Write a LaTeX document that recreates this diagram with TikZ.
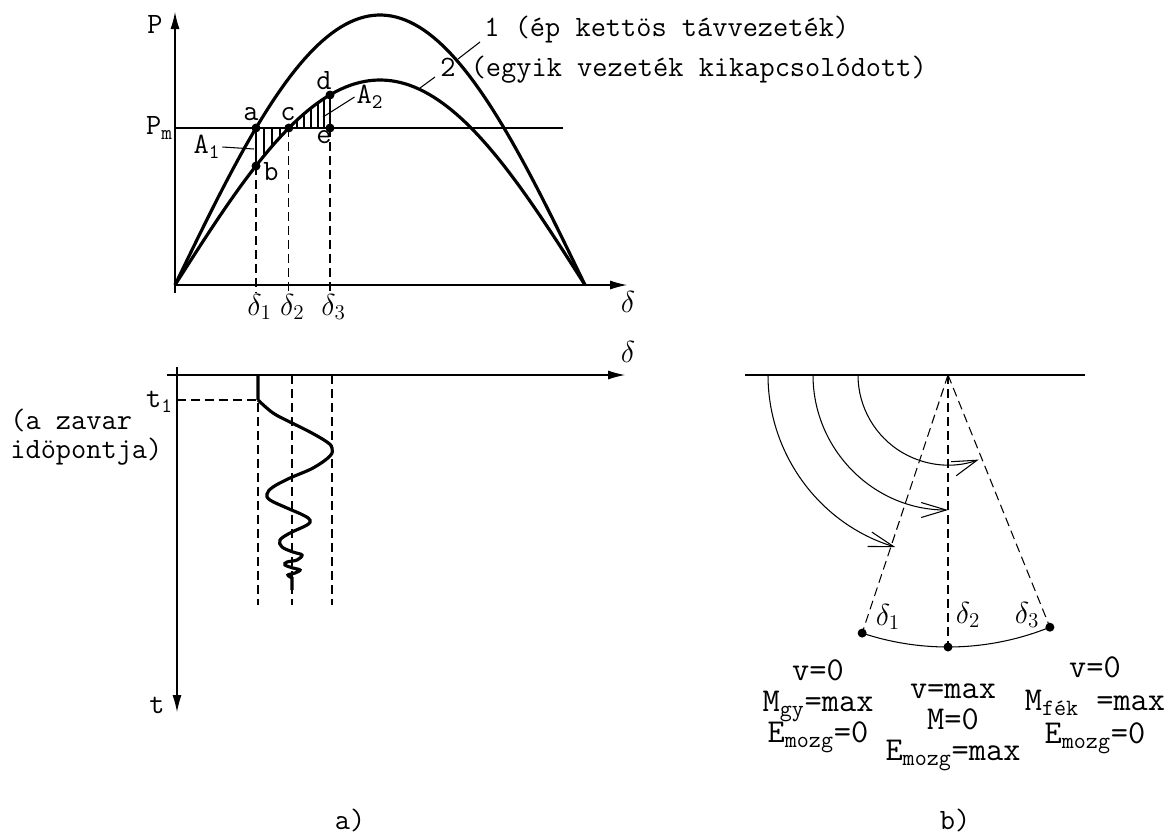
\documentclass[tikz,border=0pt]{standalone}
\usetikzlibrary{arrows.meta}
\newcommand{\tightlines}{\lineskiplimit-50pt\relax}
\begin{document}
\begin{tikzpicture}[
  x=0.02cm, y=-0.02cm,
  font=\fontsize{16.8}{18}\selectfont\ttfamily,
  every node/.style={inner sep=1pt},
  fine/.style={line width=0.6pt},
  axis/.style={line width=0.6pt, -{Latex[length=3.4mm, width=1.8mm]}},
  curve/.style={line width=1.8pt},
  guide/.style={line width=0.6pt, dash pattern=on 1.8mm off 1mm},
  dot/.style={circle, fill, inner sep=0pt, minimum size=1.8mm},
  swing/.style={line width=0.6pt, -{Straight Barb[length=5mm, width=3mm]}},
  state/.style={align=center, inner sep=0pt,
    font=\fontsize{19}{17.8}\selectfont\ttfamily\tightlines}
]
\useasboundingbox (0,0) rectangle (1165,839);

% Power-angle diagram
\coordinate (o) at (175,285);
\coordinate (pbot) at (175,293);
\coordinate (ptop) at (175,12);
\coordinate (dend) at (627,285);
\draw[axis] (pbot) -- (ptop);
\draw[axis] (o) -- (dend);
\node (plabel) at (155,24) {P};
\node (dlabel) at (628,302) {$\delta$};

\coordinate (pm0) at (175,128);
\coordinate (pm1) at (563,128);
\draw[fine] (pm0) -- (pm1);
\node[anchor=east] (pmlabel) at (pm0) {P\textsubscript{m}};

\draw[curve] plot[domain=0:180, samples=90] ({175+\x/180*410}, {285-270*sin(\x)});
\draw[curve] plot[domain=0:180, samples=90] ({175+\x/180*410}, {285-205*sin(\x)});

% Operating points
\coordinate (a) at (256,128);
\coordinate (b) at (256,166);
\coordinate (c) at (288.8,128);
\coordinate (d) at (330,95);
\coordinate (e) at (330,128);
\coordinate (f1) at (256,292);
\coordinate (f2) at (288.8,292);
\coordinate (f3) at (330,292);

% Areas A1 and A2
\foreach \xx in {264,272,280}
  \draw[fine] (\xx,128) -- (\xx,{285-205*sin((\xx-175)/410*180)});
\foreach \xx in {297,304,311,318,324}
  \draw[fine] (\xx,128) -- (\xx,{285-205*sin((\xx-175)/410*180)});
\draw[fine] (a) -- (b);
\draw[fine] (d) -- (e);

\draw[guide] (b) -- (f1);
\draw[guide] (c) -- (f2);
\draw[guide] (e) -- (f3);
\node[anchor=north] (d1) at ([xshift=2]f1) {$\delta_1$};
\node[anchor=north] (d2) at ([xshift=2]f2) {$\delta_2$};
\node[anchor=north] (d3) at ([xshift=2]f3) {$\delta_3$};

\foreach \p in {a,b,c,d,e}
  \node[dot] at (\p) {};
\node (la) at (251,114) {a};
\node (lb) at (271,172) {b};
\node (lc) at (288,114) {c};
\node (ld) at (324,81) {d};
\node (le) at (324,137) {e};

\node (A1) at (207,147) {A\textsubscript{1}};
\coordinate (A1end) at (254,149);
\draw[fine] (A1.east) -- (A1end);
\node (A2) at (370,97) {A\textsubscript{2}};
\coordinate (A2end) at (323,117);
\draw[fine] (A2.west) -- (A2end);

% Curve labels
\node[anchor=west, inner sep=0pt] (c1) at (484,30) {1 (ép kettös távvezeték)};
\node[anchor=west, inner sep=0pt] (c2) at (440,70) {2 (egyik vezeték kikapcsolódott)};
\coordinate (c1a) at (480,42);
\coordinate (c1b) at (458,59);
\coordinate (c2a) at (435,77);
\coordinate (c2b) at (420,88);
\draw[fine] (c1a) -- (c1b);
\draw[fine] (c2a) -- (c2b);

% Swing in time
\coordinate (t0) at (177,367);
\coordinate (tend) at (177,712);
\coordinate (x0) at (167,375);
\coordinate (xend) at (625,375);
\draw[axis] (t0) -- (tend);
\draw[axis] (x0) -- (xend);
\node (tlabel) at (157,705) {t};
\node (xlabel) at (628,352) {$\delta$};

\coordinate (t1) at (177,400);
\coordinate (s0) at (258,375);
\coordinate (s1) at (258,400);
\node[anchor=east] (t1label) at (175,402) {t\textsubscript{1}};
\node[anchor=west, inner sep=0pt, align=left,
  font=\fontsize{16.8}{16.2}\selectfont\ttfamily\tightlines]
  (zavar) at (10,437) {(a zavar\\idöpontja)};
\draw[guide] (t1) -- (s1);
\foreach \xx in {258,292,332}
  \draw[guide] (\xx,375) -- (\xx,605);

\draw[curve] (s0) -- (s1) plot[smooth, tension=0.6] coordinates {
  (258,400) (273,413) (290,422) (310,432) (327,442) (332,448) (330,456)
  (313,468) (290,478) (273,487) (267,494) (270,500) (287,508) (303,515)
  (310,520) (307,525) (290,533) (280,540) (282,547) (293,552) (302,555)
  (297,560) (287,562) (285,565) (293,568) (300,570) (295,573) (288,575)
  (292,578)} -- (292,590);

% Rotor positions
\coordinate (h0) at (745,375);
\coordinate (h1) at (1085,375);
\coordinate (apex) at (948,375);
\draw[fine] (h0) -- (h1);
\draw[guide] (apex) -- ++(108.4:272) coordinate (r1);
\draw[guide] (apex) -- ++(90:272) coordinate (r2);
\draw[guide] (apex) -- ++(68:272) coordinate (r3);
\draw[fine] (r1) arc[start angle=108.4, end angle=68, radius=272];
\foreach \p in {r1,r2,r3}
  \node[dot] at (\p) {};

\draw[swing] (apex) ++(180:180) arc[start angle=180, end angle=107, radius=180];
\draw[swing] (apex) ++(180:135) arc[start angle=180, end angle=90, radius=135];
\draw[swing] (apex) ++(180:90) arc[start angle=180, end angle=70, radius=90];

\node (rd1) at (888,617) {$\delta_1$};
\node (rd2) at (968,615) {$\delta_2$};
\node (rd3) at (1027,615) {$\delta_3$};

% States of the rotor
\node[state] (lstate) at (818,706) {v=0\\M\textsubscript{gy}=max\\E\textsubscript{mozg}=0};
\node[state] (mstate) at (953,727) {v=max\\M=0\\E\textsubscript{mozg}=max};
\node[state, font=\fontsize{19}{18.8}\selectfont\ttfamily\tightlines]
  (rstate) at (1095,705) {v=0\\M\textsubscript{fék} =max\\E\textsubscript{mozg}=0};

\node (capa) at (350,820) {a)};
\node (capb) at (955,820) {b)};

\end{tikzpicture}
\end{document}
